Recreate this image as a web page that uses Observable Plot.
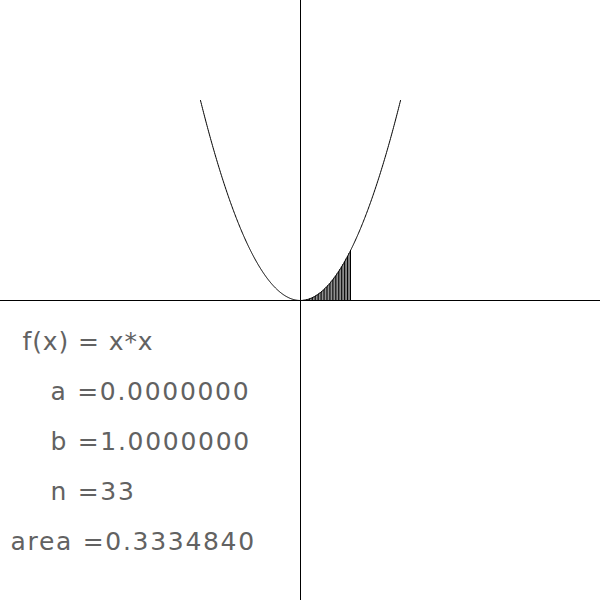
<!DOCTYPE html>
<html>
<head>
<meta charset="utf-8">
<script src="https://cdn.jsdelivr.net/npm/d3@7"></script>
<script src="https://cdn.jsdelivr.net/npm/@observablehq/plot@0.6"></script>
<style>
  html, body { margin: 0; padding: 0; background: #fff; }
</style>
</head>
<body>
<div id="chart"></div>
<script>
// Chart content
const funcLabel = "f(x) = x*x";
const f = x => x * x;
const curveRange = [-2, 2];      // plotted extent of the curve
const a = 0.0;
const b = 1.0;
const n = 33;
const area = 0.3334840;
const rowNames = ["a", "b", "n", "area"];
const rowValues = [a.toFixed(7), b.toFixed(7), String(n), area.toFixed(7)];

// Build tables
const curve = d3.range(0, 401).map(i => {
  const x = curveRange[0] + i * (curveRange[1] - curveRange[0]) / 400;
  return {x, y: f(x)};
});
const strips = d3.range(0, n + 1).map(i => {
  const x = a + i * (b - a) / n;
  return {x, y: f(x)};
});

// Text layout (data units of the plot frame)
const headX = -5.56, headY = -0.98;
const rowX = [-5.0, -5.0, -5.0, -5.8];
const rowY = [-1.98, -2.98, -3.98, -4.98];
const rows = rowNames.map((nm, i) => ({t: `${nm} =${rowValues[i]}`, x: rowX[i], y: rowY[i]}));

const textStyle = {
  textAnchor: "start", lineAnchor: "bottom",
  fill: "#626262", fontSize: 25, fontFamily: "DejaVu Sans"
};

const plot = Plot.plot({
  width: 600,
  height: 600,
  margin: 0,
  x: {domain: [-6, 6], axis: null},
  y: {domain: [-6, 6], axis: null},
  marks: [
    Plot.ruleY([0], {stroke: "black", strokeWidth: 1}),
    Plot.ruleX([0], {stroke: "black", strokeWidth: 1}),
    Plot.ruleX(strips, {x: "x", y1: 0, y2: "y", stroke: "black", strokeWidth: 1}),
    Plot.line(curve, {x: "x", y: "y", stroke: "black", strokeWidth: 1}),
    Plot.text([{t: funcLabel, x: headX, y: headY}], {
      x: "x", y: "y", text: "t", ...textStyle, className: "head"
    }),
    Plot.text(rows, {
      x: "x", y: "y", text: "t", ...textStyle, className: "rows"
    })
  ]
});
plot.querySelectorAll("g.head").forEach(g => g.style.letterSpacing = "0.9px");
plot.querySelectorAll("g.rows").forEach(g => g.style.letterSpacing = "1.7px");
document.getElementById("chart").appendChild(plot);
</script>
</body>
</html>
